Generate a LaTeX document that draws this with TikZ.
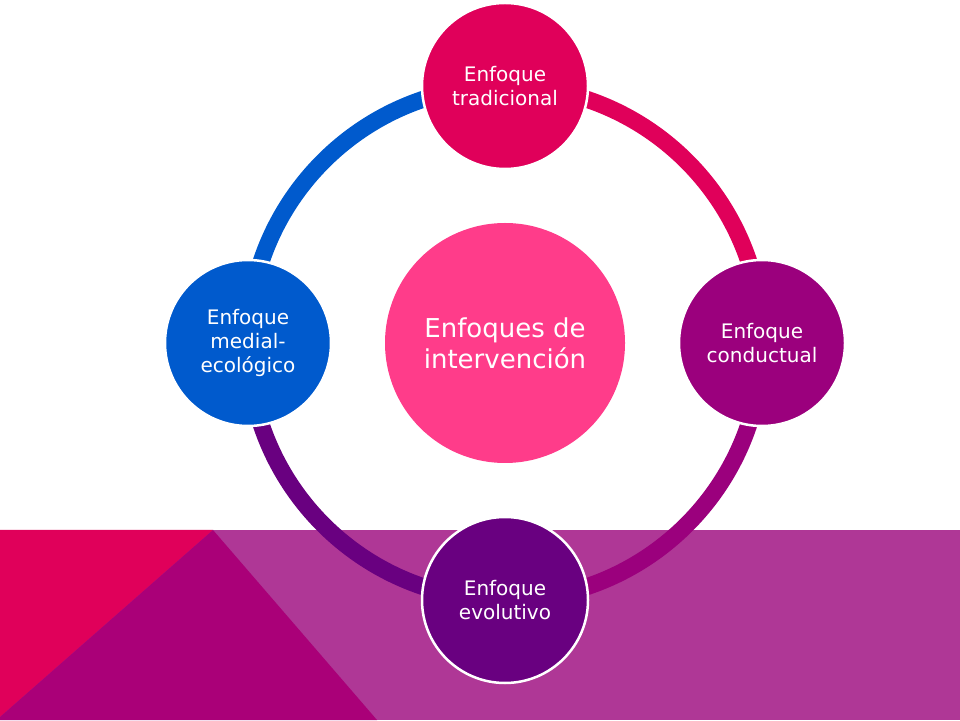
\documentclass[tikz,border=0pt]{standalone}
\usepackage{fontspec}
\setmainfont{DejaVu Sans}
\definecolor{cRed}{HTML}{E0005A}
\definecolor{cPink}{HTML}{FF3C8A}
\definecolor{cPurple}{HTML}{9B007D}
\definecolor{cDark}{HTML}{690080}
\definecolor{cBlue}{HTML}{005ACD}
\definecolor{cBand}{HTML}{AF3796}
\definecolor{cMag}{HTML}{AA0078}
\tikzset{
  sat/.style={circle, draw=white, line width=2.5pt, minimum size=166pt, inner sep=0pt,
    text=white, align=center, font=\fontsize{20}{24}\selectfont},
  hub/.style={circle, fill=cPink, minimum size=240pt, inner sep=0pt,
    text=white, align=center, font=\fontsize{26}{31}\selectfont},
  ringarc/.style={line width=17pt}
}
\begin{document}
\begin{tikzpicture}[x=1pt,y=1pt]
\useasboundingbox (0,0) rectangle (960,720);
% bottom band
\fill[cBand] (0,0) rectangle (960,190);
\fill[cRed] (0,190) -- (213,190) -- (0,3) -- cycle;
\fill[cMag] (213,190) -- (0,3) -- (0,0) -- (377,0) -- cycle;
% hub
\node[hub] (hub) at (505,377) {Enfoques de\\intervención};
% satellite positions
\coordinate (ptop) at (505,634);
\coordinate (pright) at (762,377);
\coordinate (pbottom) at (505,120);
\coordinate (pleft) at (248,377);
% ring arcs
\draw[ringarc, cRed] (ptop) arc[start angle=90, end angle=0, radius=257];
\draw[ringarc, cPurple] (pright) arc[start angle=0, end angle=-90, radius=257];
\draw[ringarc, cDark] (pbottom) arc[start angle=-90, end angle=-180, radius=257];
\draw[ringarc, cBlue] (pleft) arc[start angle=180, end angle=90, radius=257];
% satellites
\node[sat, fill=cRed] (top) at (ptop) {Enfoque\\tradicional};
\node[sat, fill=cPurple] (right) at (pright) {Enfoque\\conductual};
\node[sat, fill=cDark] (bottom) at (pbottom) {Enfoque\\evolutivo};
\node[sat, fill=cBlue] (left) at (pleft) {Enfoque\\medial-\\ecológico};
\end{tikzpicture}
\end{document}
